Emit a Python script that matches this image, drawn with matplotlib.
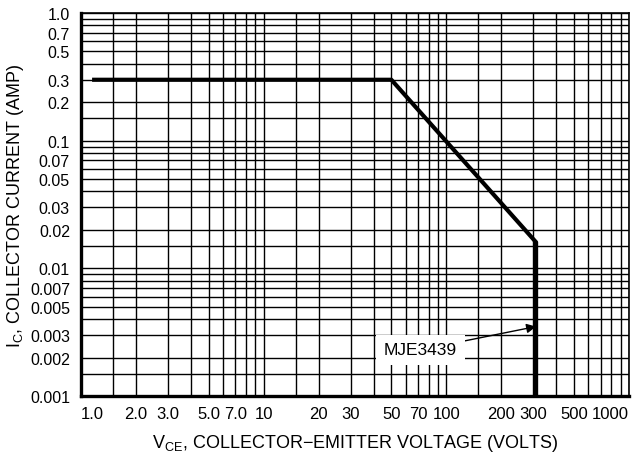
import matplotlib
matplotlib.use("Agg")
import matplotlib.pyplot as plt
from matplotlib.ticker import FixedLocator, NullFormatter

# Safe operating area curve (MJE3439)
vce_curve = [1.15, 50, 310, 310]
ic_curve = [0.3, 0.3, 0.016, 0.001]

x_ticks = [1, 2, 3, 5, 7, 10, 20, 30, 50, 70, 100, 200, 300, 500, 1000]
x_labels = ["1.0", "2.0", "3.0", "5.0", "7.0", "10", "20", "30", "50", "70",
            "100", "200", "300", "500", "1000"]
y_ticks = [0.001, 0.002, 0.003, 0.005, 0.007, 0.01, 0.02, 0.03, 0.05, 0.07,
           0.1, 0.2, 0.3, 0.5, 0.7, 1.0]
y_labels = ["0.001", "0.002", "0.003", "0.005", "0.007", "0.01", "0.02", "0.03",
            "0.05", "0.07", "0.1", "0.2", "0.3", "0.5", "0.7", "1.0"]

label_text = "MJE3439"
label_pos = (72, 0.0023)
arrow_tip = (310, 0.0035)

plt.rcParams['font.family'] = ['Liberation Sans Narrow', 'Liberation Sans', 'DejaVu Sans']
plt.rcParams['mathtext.default'] = 'regular'

fig = plt.figure(figsize=(6.34, 4.6), dpi=100)
ax = fig.add_axes([81 / 634, 63 / 460, 548 / 634, 383 / 460])

ax.set_xscale('log')
ax.set_yscale('log')
ax.set_xlim(1, 1000)
ax.set_ylim(0.001, 1.0)

# grid lines at 1, 1.5, 2 ... 9 in every decade
steps = [1, 1.5, 2, 3, 4, 5, 6, 7, 8, 9]
x_grid = [s * 10 ** d for d in range(0, 3) for s in steps] + [1000]
y_grid = [s * 10.0 ** d for d in range(-3, 0) for s in steps] + [1.0]
ax.xaxis.set_minor_locator(FixedLocator(x_grid))
ax.yaxis.set_minor_locator(FixedLocator(y_grid))
ax.xaxis.set_minor_formatter(NullFormatter())
ax.yaxis.set_minor_formatter(NullFormatter())
ax.grid(True, which='both', color='black', linewidth=1.0)

ax.set_xticks(x_ticks)
ax.set_xticklabels(x_labels)
ax.set_yticks(y_ticks)
ax.set_yticklabels(y_labels)
ax.tick_params(which='both', length=0, labelsize=12)
ax.tick_params(axis='y', labelsize=11.5)
ax.tick_params(axis='x', pad=7)
ax.tick_params(axis='y', pad=8)
xt = ax.get_xticklabels()
xt[0].set_horizontalalignment('left')
xt[-1].set_horizontalalignment('right')

for side in ['left', 'bottom']:
    ax.spines[side].set_linewidth(2.4)
for side in ['top', 'right']:
    ax.spines[side].set_linewidth(1.2)

ax.plot(vce_curve, ic_curve, color='black', linewidth=3.0, solid_capstyle='butt', zorder=5)

ax.annotate(label_text, xy=arrow_tip, xytext=label_pos, fontsize=12.5,
            ha='center', va='center', zorder=6,
            bbox=dict(boxstyle='square,pad=0.45', fc='white', ec='none'),
            arrowprops=dict(arrowstyle='-|>', color='black', lw=1.0,
                            mutation_scale=14, shrinkA=0, shrinkB=0))

ax.set_xlabel("V$_{CE}$, COLLECTOR\u2212EMITTER VOLTAGE (VOLTS)", fontsize=13, labelpad=8)
ax.set_ylabel("I$_{C}$, COLLECTOR CURRENT (AMP)", fontsize=13)
ax.yaxis.set_label_coords(-0.1, 0.5)

fig.savefig("out.png", dpi=100)
